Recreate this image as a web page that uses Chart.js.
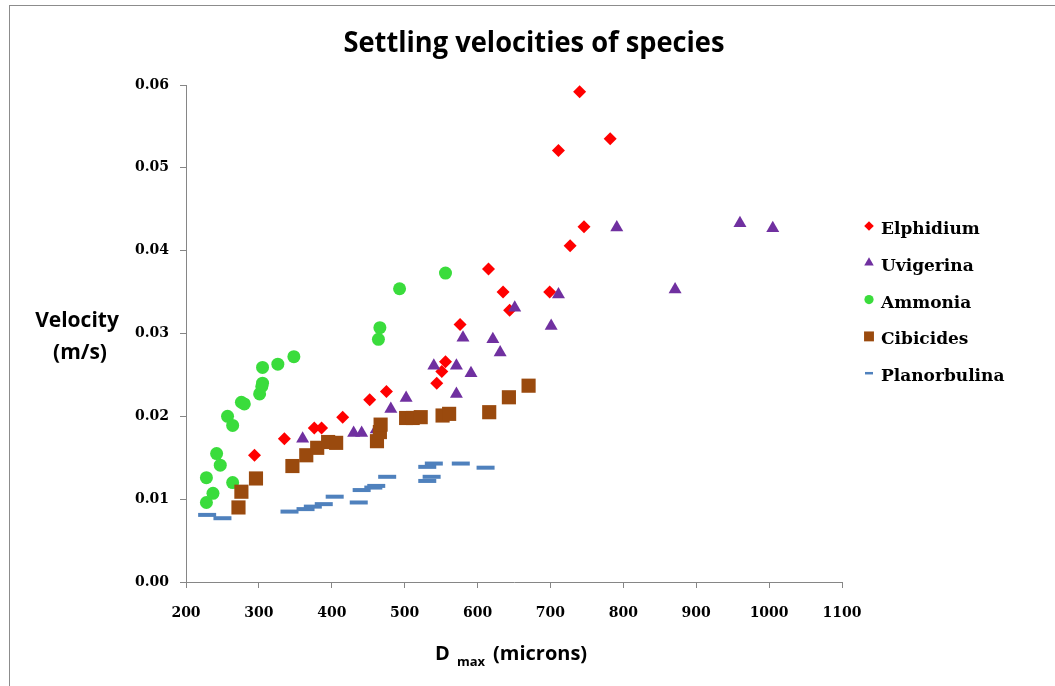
<!DOCTYPE html>
<html>
<head>
<meta charset="utf-8">
<title>Settling velocities of species</title>
<script src="https://cdn.jsdelivr.net/npm/chart.js@4.4.1/dist/chart.umd.min.js"></script>
<style>
  html, body { margin: 0; padding: 0; background: #fff; }
  #wrap { width: 1055px; height: 686px; }
</style>
</head>
<body>
<div id="wrap"><canvas id="chart" width="1055" height="686"></canvas></div>
<script>
// === Data: [D max (microns), settling velocity (m/s)] ===
const elphidium = [
    [294, 0.0153], [335, 0.0173], [376, 0.0186], [386, 0.0186], [415, 0.0199],
    [452, 0.0220], [475, 0.0230], [544, 0.0240], [551, 0.0254], [556, 0.0266],
    [576, 0.0311], [615, 0.0378], [635, 0.0350], [644, 0.0328], [699, 0.0350],
    [711, 0.0521], [727, 0.0406], [740, 0.0592], [746, 0.0429], [782, 0.0535]
];
const uvigerina = [
    [360, 0.0173], [430, 0.0180], [441, 0.0180], [461, 0.0184], [481, 0.0209],
    [502, 0.0222], [540, 0.0261], [571, 0.0261], [571, 0.0227], [580, 0.0295],
    [591, 0.0252], [621, 0.0293], [631, 0.0277], [651, 0.0331], [701, 0.0309],
    [711, 0.0347], [791, 0.0428], [871, 0.0353], [960, 0.0433], [1005, 0.0427]
];
const ammonia = [
    [228, 0.0096], [237, 0.0107], [228, 0.0126], [264, 0.0120], [242, 0.0155],
    [247, 0.0141], [257, 0.0200], [264, 0.0189], [276, 0.0217], [280, 0.0215],
    [301, 0.0227], [304, 0.0236], [305, 0.0240], [305, 0.0259], [326, 0.0263],
    [348, 0.0272], [464, 0.0293], [466, 0.0307], [493, 0.0354], [556, 0.0373]
];
const cibicides = [
    [272, 0.0090], [276, 0.0109], [296, 0.0125], [346, 0.0140], [365, 0.0153],
    [380, 0.0162], [395, 0.0169], [406, 0.0168], [462, 0.0170], [466, 0.0181],
    [467, 0.0190], [502, 0.0198], [511, 0.0198], [522, 0.0199], [552, 0.0201],
    [561, 0.0203], [616, 0.0205], [643, 0.0223], [670, 0.0237]
];
const planorbulina = [
    [229, 0.0081], [250, 0.0077], [342, 0.0085], [364, 0.0088], [374, 0.0091],
    [389, 0.0094], [404, 0.0103], [437, 0.0096], [441, 0.0111], [457, 0.0114],
    [461, 0.0116], [476, 0.0127], [531, 0.0122], [537, 0.0127], [531, 0.0139],
    [540, 0.0143], [577, 0.0143], [611, 0.0138]
];

const seriesNames = ['Elphidium', 'Uvigerina', 'Ammonia', 'Cibicides', 'Planorbulina'];
const xAxisRange = [200, 1100, 100];   // min, max, step
const yAxisRange = [0, 0.06, 0.01];

// === Marker styles ===
const STYLES = [
    { color: '#ff0000', pointStyle: 'rectRot',  radius: 6.5, border: 0, legendRadius: 4.8 },
    { color: '#7030a0', pointStyle: 'triangle', radius: 7.5, border: 0, legendRadius: 5.5 },
    { color: '#3adc3c', pointStyle: 'circle',   radius: 6.5, border: 0, legendRadius: 4.6 },
    { color: '#9a4a0e', pointStyle: 'rect',     radius: 10,  border: 0, legendRadius: 7 },
    { color: '#4f81bd', pointStyle: 'line',     radius: 9,   border: 4, legendRadius: 4 }
];

const toPoints = arr => arr.map(([x, y]) => ({ x, y }));
const seriesData = [elphidium, uvigerina, ammonia, cibicides, planorbulina];

const datasets = seriesData.map((arr, i) => ({
    label: seriesNames[i],
    data: toPoints(arr),
    pointStyle: STYLES[i].pointStyle,
    pointRadius: STYLES[i].radius,
    pointBackgroundColor: STYLES[i].color,
    pointBorderColor: STYLES[i].color,
    pointBorderWidth: STYLES[i].border,
    showLine: false,
    // later series sit on top
    order: seriesData.length - i,
}));

const TICK_FONT = { family: '"DejaVu Serif", serif', size: 14, weight: 'bold' };
const SANS = '"Open Sans", "Noto Sans", sans-serif';
const SERIF = '"DejaVu Serif", serif';

// === Background, frame, titles and side legend ===
const decorations = {
    id: 'decorations',
    beforeDraw(chart) {
        const ctx = chart.ctx;
        ctx.save();
        ctx.fillStyle = '#fff';
        ctx.fillRect(0, 0, chart.width, chart.height);
        ctx.strokeStyle = '#8c8c8c';
        ctx.lineWidth = 1;
        ctx.strokeRect(9.5, 5.5, chart.width + 20, chart.height + 20);
        ctx.restore();
    },
    afterDraw(chart) {
        const ctx = chart.ctx;
        ctx.save();
        ctx.fillStyle = '#000';

        // chart title, squeezed a little to a Calibri-like width
        ctx.font = `bold 29px ${SANS}`;
        ctx.textBaseline = 'alphabetic';
        ctx.textAlign = 'center';
        const title = 'Settling velocities of species';
        const tw = ctx.measureText(title).width;
        ctx.save();
        ctx.translate(534, 52);
        ctx.scale(Math.min(1, 381 / tw), 1);
        ctx.fillText(title, 0, 0);
        ctx.restore();

        // y axis title on two lines
        ctx.font = `bold 21px ${SANS}`;
        ctx.fillText('Velocity', 77, 327);
        ctx.fillText('(m/s)', 80, 359);

        // x axis title with subscript
        ctx.textAlign = 'left';
        ctx.font = `bold 20px ${SANS}`;
        ctx.fillText('D', 435, 660);
        ctx.font = `bold 13px ${SANS}`;
        ctx.fillText('max', 457, 666);
        ctx.font = `bold 20px ${SANS}`;
        ctx.fillText('(microns)', 493, 660);

        // legend
        ctx.font = `bold 17px ${SERIF}`;
        chart.data.datasets.forEach((ds, i) => {
            const s = STYLES[i];
            const y = 226 + i * 36.8;
            const lw = s.pointStyle === 'line' ? 2.5 : 0;
            ctx.fillStyle = s.color;
            ctx.strokeStyle = s.color;
            ctx.lineWidth = lw;
            Chart.helpers.drawPoint(ctx, {
                pointStyle: s.pointStyle,
                radius: s.legendRadius,
                rotation: 0,
                borderWidth: lw
            }, 869, y);
            ctx.fillStyle = '#000';
            ctx.fillText(ds.label, 881, y + 8);
        });
        ctx.restore();
    }
};

new Chart(document.getElementById('chart'), {
    type: 'scatter',
    data: { datasets },
    plugins: [decorations],
    options: {
        responsive: false,
        animation: false,
        events: [],
        devicePixelRatio: 1,
        layout: { padding: { left: 0, top: 85, right: 213, bottom: 0 } },
        plugins: {
            legend: { display: false },
            title: { display: false },
            tooltip: { enabled: false },
        },
        scales: {
            x: {
                type: 'linear',
                min: xAxisRange[0],
                max: xAxisRange[1],
                ticks: {
                    stepSize: xAxisRange[2], color: '#000', font: TICK_FONT, padding: 17, maxRotation: 0,
                    callback: (v) => String(v),
                },
                grid: { drawOnChartArea: false, drawTicks: true, tickLength: 6, color: '#868686' },
                border: { color: '#868686', width: 1 },
                afterFit: (s) => { s.height = 104; },
            },
            y: {
                type: 'linear',
                min: yAxisRange[0],
                max: yAxisRange[1],
                ticks: {
                    stepSize: yAxisRange[2], color: '#000', font: TICK_FONT, padding: 11,
                    callback: (v) => v.toFixed(2),
                },
                grid: { drawOnChartArea: false, drawTicks: true, tickLength: 6, color: '#868686' },
                border: { color: '#868686', width: 1 },
                afterFit: (s) => { s.width = 186; },
            }
        }
    }
});
</script>
</body>
</html>
